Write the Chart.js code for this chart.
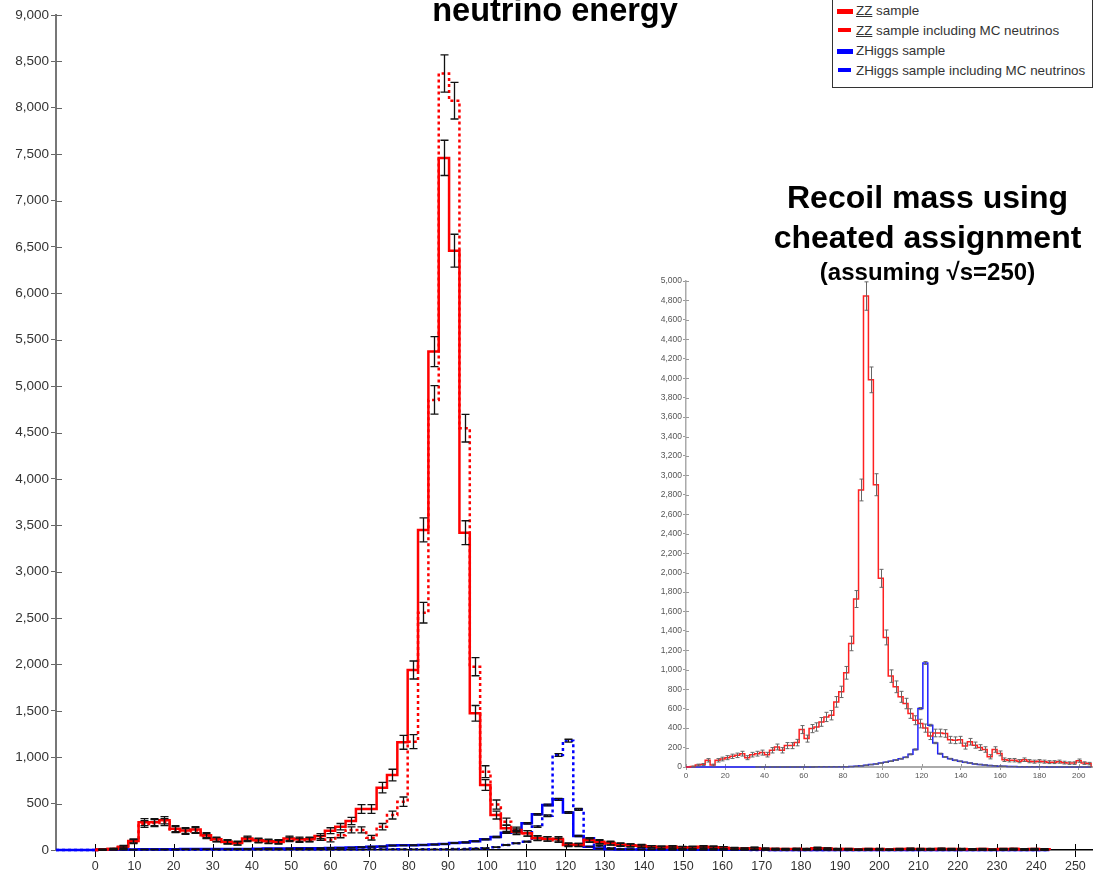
<!DOCTYPE html>
<html>
<head>
<meta charset="utf-8">
<script src="https://cdn.jsdelivr.net/npm/chart.js@4.4.0/dist/chart.umd.min.js"></script>
<style>
    html, body { margin: 0; padding: 0; background: #fff; overflow: hidden; }
    #wrap { position: relative; width: 1093px; height: 875px; font-family: 'Liberation Sans', Arial, sans-serif; }
    #main { position: absolute; left: 0; top: 0; }
    #inset { position: absolute; left: 640px; top: 270px; }
    .title { position: absolute; font-weight: bold; color: #000; white-space: nowrap; line-height: 1; text-align: center; }
    #legend { position: absolute; left: 832px; top: -1px; width: 259px; height: 87px; border: 1px solid #333; background: #fff; }
    #legend .sw { position: absolute; }
    #legend .txt { position: absolute; left: 23px; font-size: 13.4px; line-height: 1; color: #333; white-space: nowrap; }
    #legend u { text-decoration: underline; }
</style>
</head>
<body>
<div id="wrap">
    <canvas id="main" width="1093" height="875"></canvas>
    <canvas id="inset" width="453" height="520"></canvas>

    <div class="title" style="left:380px; width:350px; top:-6px; font-size:32.5px;">neutrino energy</div>
    <div class="title" style="left:760px; width:335px; top:181px; font-size:32px;">Recoil mass using</div>
    <div class="title" style="left:760px; width:335px; top:221px; font-size:32px;">cheated assignment</div>
    <div class="title" style="left:760px; width:335px; top:260px; font-size:24px;">(assuming √s=250)</div>

    <div id="legend">
        <div class="sw" style="left:4px; top:9px; width:16px; height:5px; background:#f00;"></div>
        <div class="txt" style="top:4px;"><u>ZZ</u> sample</div>
        <div class="sw" style="left:5px; top:28px; width:13px; height:4px; background:#f00;"></div>
        <div class="txt" style="top:24px;"><u>ZZ</u> sample including MC neutrinos</div>
        <div class="sw" style="left:4px; top:49px; width:16px; height:5px; background:#00f;"></div>
        <div class="txt" style="top:44px;">ZHiggs sample</div>
        <div class="sw" style="left:5px; top:68px; width:13px; height:4px; background:#00f;"></div>
        <div class="txt" style="top:64px;">ZHiggs sample including MC neutrinos</div>
    </div>
</div>

<script>
// main histogram binning (GeV)
const binStart = 0.5;
const binWidth = 2.64;
const xTicks = [0, 10, 20, 30, 40, 50, 60, 70, 80, 90, 100, 110, 120, 130, 140, 150, 160, 170, 180, 190, 200, 210, 220, 230, 240, 250];

const zzSample = [
    5, 10, 36, 97, 300, 300, 320, 230, 210, 220,
    160, 115, 90, 75, 125, 105, 95, 90, 125, 115,
    115, 150, 208, 251, 313, 442, 442, 672, 808, 1161,
    1940, 3450, 5372, 7460, 6460, 3420, 1473, 700, 377, 234,
    197, 180, 126, 119, 119, 54, 54, 105, 90, 75,
    60, 50, 45, 35, 30, 35, 25, 30, 35, 30,
    25, 15, 15, 20, 12, 10, 10, 10, 8, 20,
    15, 8, 10, 5, 10, 8, 5, 10, 12, 10,
    8, 12, 10, 8, 8, 10, 5, 10, 10, 8,
    10, 8
];
const zzWithNu = [
    5, 10, 30, 90, 280, 290, 300, 220, 200, 210,
    150, 110, 85, 70, 115, 100, 90, 85, 115, 105,
    110, 130, 110, 160, 216, 216, 133, 251, 377, 521,
    1168, 2558, 4851, 8370, 8077, 4546, 1976, 844, 490, 305,
    215, 180, 130, 120, 105, 60, 55, 110, 85, 70,
    55, 50, 40, 35, 30, 30, 28, 25, 30, 30,
    25, 18, 12, 18, 12, 10, 8, 10, 10, 15,
    12, 10, 8, 5, 8, 10, 5, 8, 10, 8,
    10, 10, 8, 10, 8, 8, 5, 8, 10, 8,
    8, 5
];
const zhSample = [
    3, 4, 5, 6, 7, 8, 9, 9, 10, 10,
    10, 11, 11, 12, 12, 14, 15, 16, 17, 18,
    19, 20, 22, 24, 26, 30, 35, 38, 48, 50,
    52, 55, 60, 65, 75, 82, 95, 115, 140, 185,
    205, 287, 384, 485, 546, 405, 151, 36, 15, 8,
    6, 5, 5, 4, 4, 3, 3, 3, 2, 2,
    2, 2, 2, 2, 2, 1, 1, 1, 1, 1,
    1, 1, 1, 1, 1, 1, 1, 1, 1, 1,
    1, 1, 1, 1, 1, 1, 1, 1, 1, 1,
    1, 1
];
const zhWithNu = [
    2, 2, 2, 3, 3, 3, 3, 3, 4, 4,
    4, 4, 4, 4, 5, 5, 5, 5, 5, 5,
    5, 5, 6, 6, 6, 6, 7, 7, 7, 8,
    8, 8, 9, 9, 10, 10, 15, 20, 30, 54,
    72, 90, 252, 370, 1024, 1178, 438, 126, 45, 20,
    10, 8, 6, 5, 4, 3, 3, 2, 2, 2,
    2, 2, 2, 1, 1, 1, 1, 1, 1, 1,
    1, 1, 1, 1, 1, 1, 1, 1, 1, 1,
    1, 1, 1, 1, 1, 1, 1, 1, 1, 1,
    1, 1
];

// inset: recoil mass (cheated assignment)
const recoilStart = 2.2;
const recoilWidth = 2.52;
const recoilTicks = [0, 20, 40, 60, 80, 100, 120, 140, 160, 180, 200];
const recoilZZ = [
    5, 20, 25, 69, 20, 69, 82, 96, 110, 120,
    137, 96, 127, 137, 148, 127, 172, 206, 172, 220,
    220, 251, 385, 292, 395, 412, 464, 515, 533, 670,
    773, 969, 1271, 1728, 2850, 4845, 3983, 2904, 1941, 1333,
    935, 825, 722, 653, 550, 481, 447, 400, 320, 350,
    350, 345, 280, 275, 280, 215, 260, 225, 200, 180,
    105, 180, 140, 75, 70, 70, 60, 75, 60, 55,
    60, 55, 50, 50, 55, 45, 40, 40, 65, 40,
    35
];
const recoilZH = [
    0, 0, 0, 0, 0, 0, 0, 0, 0, 0,
    0, 0, 0, 1, 1, 1, 1, 1, 1, 1,
    1, 1, 1, 1, 1, 2, 2, 2, 2, 2,
    2, 3, 5, 8, 12, 18, 25, 32, 40, 50,
    60, 72, 85, 100, 130, 180, 601, 1070, 430, 247,
    137, 103, 85, 69, 58, 48, 40, 32, 25, 20,
    15, 12, 9, 7, 5, 4, 3, 2, 2, 2,
    2, 2, 1, 1, 1, 1, 1, 1, 1, 1,
    1
];

const FONT = "'Liberation Sans', Arial, sans-serif";

// step outline of a histogram: left edge of every bin, then back down to zero
function histPoints(start, width, vals, leadX) {
    const pts = [];
    if (leadX !== undefined) pts.push({ x: leadX, y: 0 });
    pts.push({ x: start, y: 0 });
    vals.forEach((v, i) => pts.push({ x: start + i * width, y: v }));
    pts.push({ x: start + vals.length * width, y: 0 });
    return pts;
}

function histDataset(label, start, width, vals, color, dashed, lw, errScale, leadX) {
    return {
        label,
        data: histPoints(start, width, vals, leadX),
        borderColor: color,
        borderWidth: lw,
        borderDash: dashed ? [3, 3] : [],
        stepped: true,
        pointRadius: 0,
        tension: 0,
        fill: false,
        clip: 4,
        // used by the error bar plugin
        binVals: vals,
        binStart: start,
        binWidth: width,
        errScale
    };
}

// statistical error bars at bin centres (bar size follows sqrt(N), scaled per sample as drawn)
const errorBars = {
    id: 'errorBars',
    afterDatasetsDraw(chart, args, opts) {
        const { ctx, scales: { x, y } } = chart;
        ctx.save();
        ctx.strokeStyle = opts.color;
        ctx.lineWidth = opts.width;
        chart.data.datasets.forEach(ds => {
            if (!ds.binVals) return;
            ds.binVals.forEach((v, i) => {
                if (v <= 0) return;
                const e = ds.errScale * Math.sqrt(v);
                const px = Math.round(x.getPixelForValue(ds.binStart + (i + 0.5) * ds.binWidth)) + 0.5;
                if (px > chart.chartArea.right) return;
                const top = y.getPixelForValue(v + e);
                const bot = y.getPixelForValue(Math.max(0, v - e));
                const c = opts.cap;
                ctx.beginPath();
                ctx.moveTo(px, top); ctx.lineTo(px, bot);
                ctx.moveTo(px - c, top); ctx.lineTo(px + c, top);
                ctx.moveTo(px - c, bot); ctx.lineTo(px + c, bot);
                ctx.stroke();
            });
        });
        ctx.restore();
    }
};

// tick marks that also reach into the plot area
const crossTicks = {
    id: 'crossTicks',
    beforeDatasetsDraw(chart, args, opts) {
        const { ctx, chartArea, scales: { x, y } } = chart;
        ctx.save();
        ctx.lineWidth = 1;
        ctx.strokeStyle = opts.yColor;
        y.ticks.forEach(t => {
            const py = Math.round(y.getPixelForValue(t.value)) + 0.5;
            ctx.beginPath(); ctx.moveTo(chartArea.left, py); ctx.lineTo(chartArea.left + opts.len, py); ctx.stroke();
        });
        ctx.strokeStyle = opts.xColor;
        x.ticks.forEach(t => {
            const px = Math.round(x.getPixelForValue(t.value)) + 0.5;
            ctx.beginPath(); ctx.moveTo(px, chartArea.bottom); ctx.lineTo(px, chartArea.bottom - opts.len); ctx.stroke();
        });
        ctx.restore();
    }
};

new Chart(document.getElementById('main'), {
    type: 'line',
    data: {
        datasets: [
            histDataset('ZZ sample', binStart, binWidth, zzSample, '#ff0000', false, 2.5, 2.2, 0),
            histDataset('ZZ sample including MC neutrinos', binStart, binWidth, zzWithNu, '#ff0000', true, 2.5, 2.2, 0),
            histDataset('ZHiggs sample', binStart, binWidth, zhSample, '#0000ff', false, 2.5, 0.45, -10),
            histDataset('ZHiggs sample including MC neutrinos', binStart, binWidth, zhWithNu, '#0000ff', true, 2.5, 0.45, -10)
        ]
    },
    options: {
        responsive: false,
        animation: false,
        layout: { padding: { top: 15, right: 0, left: 0, bottom: 0 } },
        plugins: {
            legend: { display: false },
            tooltip: { enabled: false },
            errorBars: { color: '#111', width: 1.3, cap: 4 },
            crossTicks: { len: 6, xColor: '#000', yColor: '#666' }
        },
        scales: {
            x: {
                type: 'linear',
                min: -10,
                max: 254.5,
                afterBuildTicks: s => { s.ticks = xTicks.map(v => ({ value: v })); },
                afterFit: s => { s.height = 25; },
                ticks: { color: '#333', font: { family: FONT, size: 12.5 }, padding: 2, maxRotation: 0, autoSkip: false },
                grid: { drawOnChartArea: false, tickLength: 7, color: '#000' },
                border: { color: '#000', width: 1.5 }
            },
            y: {
                min: 0,
                max: 9000,
                ticks: { stepSize: 500, color: '#333', font: { family: FONT, size: 13.5 }, padding: 2 },
                afterFit: s => { s.width = 56; },
                grid: { drawOnChartArea: false, tickLength: 5, color: '#666' },
                border: { color: '#777', width: 2 }
            }
        }
    },
    plugins: [errorBars, crossTicks]
});

new Chart(document.getElementById('inset'), {
    type: 'line',
    data: {
        datasets: [
            histDataset('ZZ recoil', recoilStart, recoilWidth, recoilZZ, '#ff2020', false, 1.5, 2.1, 0),
            histDataset('ZHiggs recoil', recoilStart, recoilWidth, recoilZH, '#2020ff', false, 1.5, 0.45, 0)
        ]
    },
    options: {
        responsive: false,
        animation: false,
        layout: { padding: { top: 11, right: 0, left: 0, bottom: 0 } },
        plugins: {
            legend: { display: false },
            tooltip: { enabled: false },
            errorBars: { color: '#666', width: 1, cap: 2 },
            crossTicks: { len: 3, xColor: '#999', yColor: '#999' }
        },
        scales: {
            x: {
                type: 'linear',
                min: 0,
                max: 207.3,
                afterBuildTicks: s => { s.ticks = recoilTicks.map(v => ({ value: v })); },
                afterFit: s => { s.height = 23; },
                ticks: { color: '#555', font: { family: FONT, size: 8 }, padding: 1, maxRotation: 0, autoSkip: false },
                grid: { drawOnChartArea: false, tickLength: 3, color: '#999' },
                border: { color: '#aaa', width: 2 }
            },
            y: {
                min: 0,
                max: 5000,
                ticks: { stepSize: 200, color: '#555', font: { family: FONT, size: 8.5 }, padding: 1, autoSkip: false },
                afterFit: s => { s.width = 46; },
                grid: { drawOnChartArea: false, tickLength: 3, color: '#999' },
                border: { color: '#aaa', width: 1.5 }
            }
        }
    },
    plugins: [errorBars, crossTicks]
});
</script>
</body>
</html>
